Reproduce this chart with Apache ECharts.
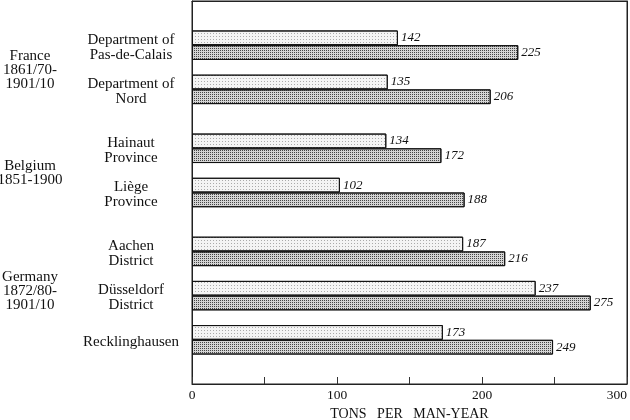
<!DOCTYPE html>
<html>
<head>
<meta charset="utf-8">
<script src="https://cdn.jsdelivr.net/npm/echarts@6/dist/echarts.min.js"></script>
<style>
html,body{margin:0;padding:0;background:#fff;}
#chart{width:630px;height:420px;}
</style>
</head>
<body>
<div id="chart"></div>
<script>
// ---- data ----
const groupNames = ['France\n1861/70-\n1901/10', 'Belgium\n1851-1900', 'Germany\n1872/80-\n1901/10'];
const regionNames = ['Department of\nPas-de-Calais', 'Department of\nNord', 'Hainaut\nProvince', 'Liège\nProvince', 'Aachen\nDistrict', 'Düsseldorf\nDistrict', 'Recklinghausen'];
const regionGroup = [0, 0, 1, 1, 2, 2, 2];
const upperValues = [142, 135, 134, 102, 187, 237, 173];
const lowerValues = [225, 206, 172, 188, 216, 275, 249];
const xTicks = [0, 100, 200, 300];
const axisTitle = 'TONS   PER   MAN-YEAR';

// ---- layout of category slots (each bar takes one slot) ----
const SLOTS = 26;
const slotLabels = [];
for (let i = 0; i < SLOTS; i++) slotLabels.push(String(i));
const upperData = new Array(SLOTS).fill(null);
const lowerData = new Array(SLOTS).fill(null);
const regionLabelAt = new Array(SLOTS).fill('');
const groupLabelAt = new Array(SLOTS).fill('');
let b = 3;
const groupBounds = {};
regionNames.forEach((name, i) => {
  if (i > 0) b += (regionGroup[i] === regionGroup[i - 1]) ? 3 : 4;
  upperData[b - 1] = upperValues[i];
  lowerData[b] = lowerValues[i];
  regionLabelAt[b - 1] = name;
  const g = regionGroup[i];
  if (!groupBounds[g]) groupBounds[g] = [b, b];
  groupBounds[g][1] = b;
});
Object.keys(groupBounds).forEach(g => {
  const mid = (groupBounds[g][0] + groupBounds[g][1]) / 2;
  groupLabelAt[Math.floor(mid - 0.5)] = groupNames[g];
});

function shifted(text, spacer, style) {
  if (!text) return '';
  return '{' + spacer + '| }\n' + text.split('\n').map(l => '{' + style + '|' + l + '}').join('\n');
}

const FONT = 'Liberation Serif';
const chart = echarts.init(document.getElementById('chart'));
chart.setOption({
  animation: false,
  backgroundColor: '#fff',
  textStyle: { fontFamily: FONT, color: '#111' },
  grid: {
    left: 192, right: 3, top: 1, bottom: 36, outerBoundsMode: 'none', containLabel: false,
    show: true, borderColor: '#222', borderWidth: 1, backgroundColor: 'transparent'
  },
  xAxis: [
    {
      type: 'value', min: 0, max: 300, interval: 50,
      axisLine: { show: true, lineStyle: { color: '#222', width: 1 } },
      axisTick: { show: true, inside: true, length: 7, lineStyle: { color: '#333' } },
      splitLine: { show: false },
      axisLabel: {
        margin: 4, fontSize: 13.5, fontFamily: FONT, color: '#111', alignMaxLabel: 'right',
        formatter: v => (xTicks.indexOf(v) >= 0 ? String(v) : '')
      },
      name: axisTitle, nameLocation: 'middle', nameGap: 21,
      nameTextStyle: { fontSize: 14, fontFamily: FONT, color: '#111' }
    },
    {
      type: 'value', min: 0, max: 300, position: 'top',
      axisLine: { show: true, onZero: false, lineStyle: { color: '#222', width: 1 } },
      axisTick: { show: false }, axisLabel: { show: false }, splitLine: { show: false }
    }
  ],
  yAxis: [
    {
      type: 'category', data: slotLabels, inverse: true,
      axisLine: { show: true, lineStyle: { color: '#222' } },
      axisTick: { show: false },
      axisLabel: {
        interval: 0, margin: 61, align: 'center',
        fontFamily: FONT, color: '#111',
        formatter: (v, i) => shifted(regionLabelAt[i], 's', 'r'),
        rich: {
          s: { fontSize: 4, lineHeight: 18.5 },
          r: { fontSize: 15, lineHeight: 15, fontFamily: FONT, color: '#111', align: 'center' }
        }
      }
    },
    {
      type: 'category', data: slotLabels, inverse: true, position: 'left', offset: 0,
      axisLine: { show: false }, axisTick: { show: false },
      axisLabel: {
        interval: 0, margin: 162, align: 'center',
        fontFamily: FONT, color: '#111',
        formatter: (v, i) => shifted(groupLabelAt[i], 's', 'g'),
        rich: {
          s: { fontSize: 4, lineHeight: 6 },
          g: { fontSize: 15, lineHeight: 14, fontFamily: FONT, color: '#111', align: 'center' }
        }
      }
    },
    {
      type: 'value', position: 'right', min: 0, max: 1,
      axisLine: { show: true, onZero: false, lineStyle: { color: '#222', width: 1 } },
      axisTick: { show: false }, axisLabel: { show: false }, splitLine: { show: false }
    }
  ],
  series: [
    {
      name: 'upper', type: 'bar', data: upperData, yAxisIndex: 0, xAxisIndex: 0,
      barGap: '-100%', barCategoryGap: '0%',
      itemStyle: {
        color: '#f4f4f4', borderColor: '#111', borderWidth: 1,
        decal: { symbol: 'rect', symbolSize: 1, color: '#aaa', dashArrayX: [1, 2], dashArrayY: [1, 2], rotation: 0 }
      },
      label: { show: true, position: 'right', distance: 3, fontStyle: 'italic', fontSize: 13, fontFamily: FONT, color: '#111' }
    },
    {
      name: 'lower', type: 'bar', data: lowerData, yAxisIndex: 0, xAxisIndex: 0,
      barGap: '-100%', barCategoryGap: '0%',
      itemStyle: {
        color: '#d4d4d4', borderColor: '#111', borderWidth: 1,
        decal: { symbol: 'rect', symbolSize: 1, color: '#444', dashArrayX: [1, 1], dashArrayY: [1, 1], rotation: 0 }
      },
      label: { show: true, position: 'right', distance: 3, fontStyle: 'italic', fontSize: 13, fontFamily: FONT, color: '#111' }
    }
  ]
});
</script>
</body>
</html>
